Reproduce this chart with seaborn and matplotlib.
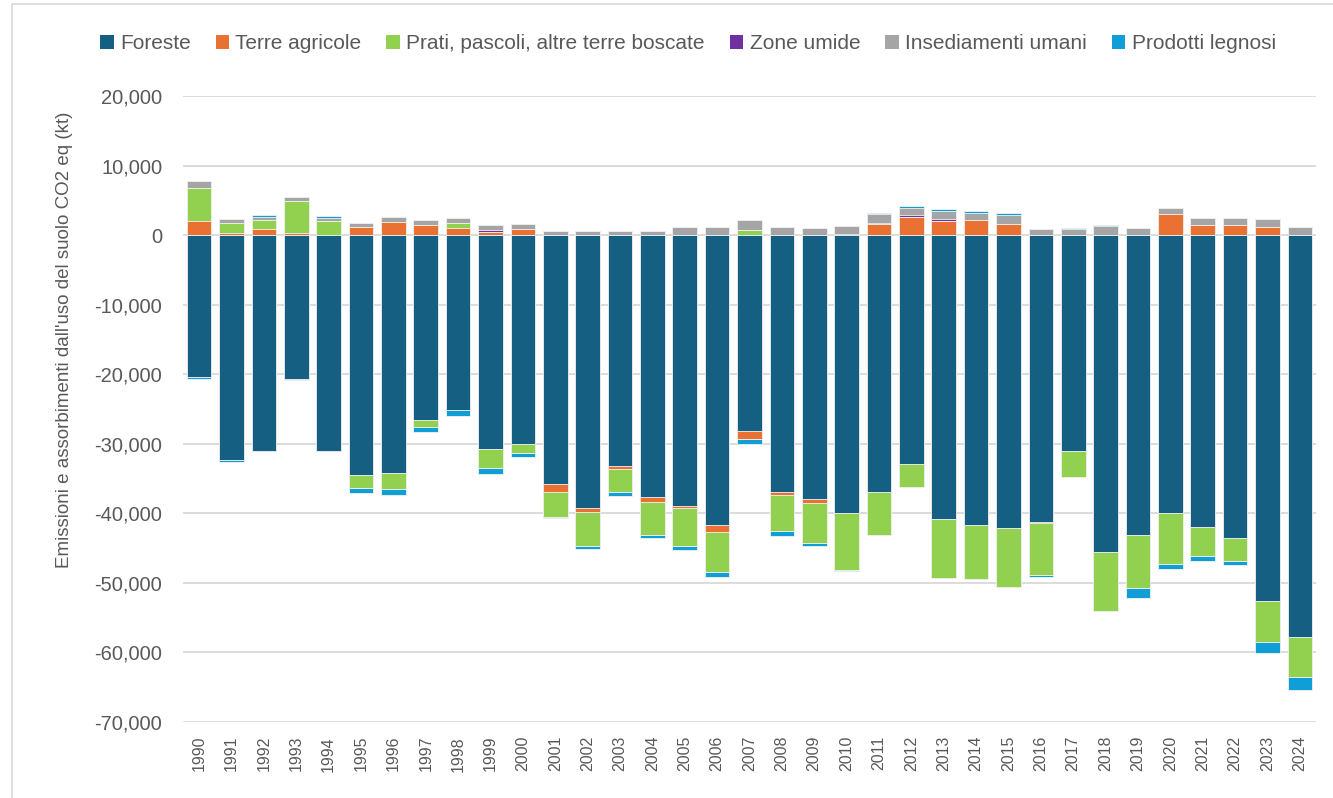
import matplotlib
matplotlib.use("Agg")
import matplotlib.pyplot as plt
from matplotlib.patches import Patch, Rectangle
from matplotlib.ticker import FuncFormatter, MultipleLocator
import numpy as np
import seaborn as sns

years = [str(y) for y in range(1990, 2025)]

foreste = [-20400, -32400, -31000, -20700, -31000, -34500, -34250, -26650, -25200, -30700,
           -30000, -35800, -39300, -33250, -37640, -38900, -41650, -28200, -36900, -37970,
           -40000, -36900, -32900, -40850, -41610, -42140, -41180, -31100, -45630, -43050,
           -39940, -41950, -43570, -52600, -57770]
terre_agricole = [2100, 300, 860, 340, 0, 1200, 1950, 1390, 1000, 430,
                  860, -1130, -570, -380, -750, -380, -1080, -1080, -420, -570,
                  0, 1580, 2640, 2060, 2110, 1580, -240, 0, 0, 0,
                  3070, 1440, 1440, 1200, 0]
prati = [4700, 1500, 1250, 4600, 2100, -1830, -2260, -960, 770, -2800,
         -1300, -3590, -4810, -3250, -4670, -5380, -5750, 670, -5240, -5750,
         -8110, -6180, -3300, -8460, -7890, -8460, -7460, -3680, -8410, -7740,
         -7360, -4160, -3350, -5880, -5690]
zone_umide = [0, 0, 0, 0, 0, 0, 0, 0, 0, 240,
              0, 0, 0, 0, 0, 0, 0, 0, 0, 0,
              200, 190, 290, 240, 0, 0, 0, 0, 0, 0,
              0, 0, 0, 0, 0]
insediamenti = [950, 530, 530, 530, 380, 575, 670, 720, 670, 720,
                720, 620, 620, 620, 620, 1200, 1200, 1440, 1200, 1000,
                1100, 1200, 1000, 1100, 1100, 1340, 815, 815, 1250, 1000,
                860, 1050, 1050, 1100, 1200]
prodotti = [-340, -190, 240, -150, 240, -770, -870, -720, -870, -910,
            -530, -190, -380, -570, -520, -570, -710, -710, -710, -380,
            -240, 140, 240, 380, 240, 190, -240, 190, 190, -1430,
            -720, -810, -530, -1620, -1960]

series_names = ["Foreste", "Terre agricole", "Prati, pascoli, altre terre boscate",
                "Zone umide", "Insediamenti umani", "Prodotti legnosi"]
series_values = [foreste, terre_agricole, prati, zone_umide, insediamenti, prodotti]
colors = ["#156082", "#E97132", "#92D050", "#7030A0", "#A5A5A5", "#0F9ED5"]

sns.set_theme(style="white")
plt.rcParams["font.family"] = ["Liberation Sans", "DejaVu Sans"]

fig = plt.figure(figsize=(13.33, 7.98), dpi=100)
ax = fig.add_axes([183 / 1333, 1 - 722 / 798, 1133 / 1333, (722 - 96) / 798])

vals = np.array(series_values, dtype=float)
pos = np.where(vals > 0, vals, 0)
neg = np.where(vals < 0, vals, 0)
cum_pos = np.cumsum(pos, axis=0)
cum_neg = np.cumsum(neg, axis=0)

# draw from the outermost cumulative layer inward so each series shows its own segment
for i in reversed(range(len(series_names))):
    for cum in (cum_pos, cum_neg):
        sns.barplot(x=years, y=cum[i], color=colors[i], saturation=1, width=0.76,
                    edgecolor="#F2F2F2", linewidth=0.6, ax=ax, zorder=3)

ax.set_ylim(-70000, 20000)
ax.set_xlim(-0.5, 34.5)
ax.yaxis.set_major_locator(MultipleLocator(10000))
ax.yaxis.set_major_formatter(FuncFormatter(lambda v, p: f"{int(v):,}"))
ax.grid(axis="y", color="#D9D9D9", linewidth=1.3, zorder=0)
ax.set_axisbelow(True)
for s in ax.spines.values():
    s.set_visible(False)
ax.tick_params(axis="y", labelsize=14.5, colors="#595959", length=0, pad=15)
ax.tick_params(axis="x", labelsize=11.5, colors="#595959", length=0, pad=10, rotation=90)
ax.set_xlabel("")
ax.set_ylabel("Emissioni e assorbimenti dall'uso del suolo CO2 eq (kt)",
              fontsize=13.5, color="#595959")
ax.yaxis.set_label_coords(-0.097, 0.61)

handles = [Patch(facecolor=c, edgecolor="none", label=n) for n, c in zip(series_names, colors)]
fig.legend(handles=handles, loc="center", bbox_to_anchor=(0.516, 0.945), ncol=6,
           frameon=False, fontsize=15, handlelength=0.65, handleheight=0.65,
           handletextpad=0.3, columnspacing=1.2, labelcolor="#595959")

fig.patches.append(Rectangle((12 / 1333, -0.05), 1.2, 1 - 4 / 798 + 0.05,
                             transform=fig.transFigure, fill=False,
                             edgecolor="#D9D9D9", linewidth=1.2))

fig.savefig("out.png", dpi=100)
